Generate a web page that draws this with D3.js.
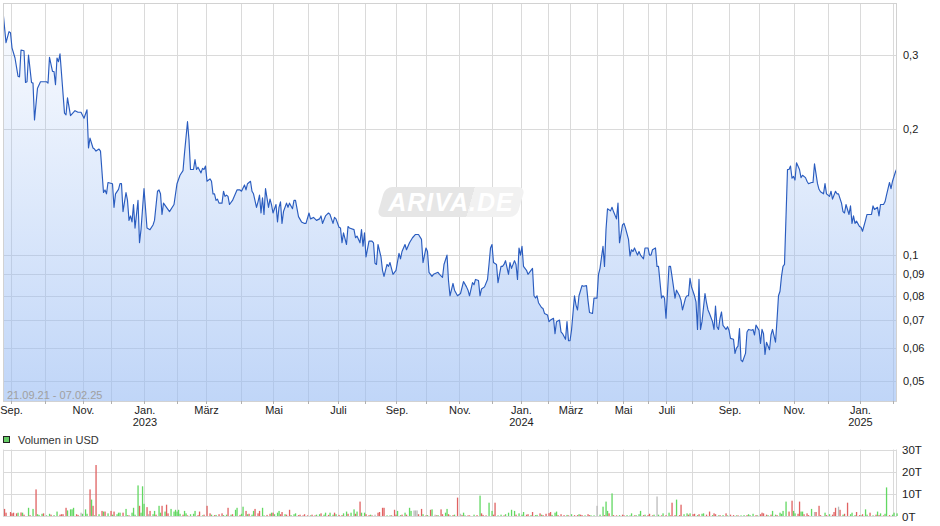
<!DOCTYPE html>
<html><head><meta charset="utf-8">
<script src="https://cdn.jsdelivr.net/npm/d3@7"></script>
<style>html,body{margin:0;padding:0;background:#fff;} svg{display:block;font-family:"Liberation Sans",Arial,sans-serif;}</style>
</head><body><svg id="c" width="940" height="526"></svg>
<script>
// ---- data (x = trading-session number) ----
const monthDays = [5,28,53,72,94,116,135,159,180,203,223,241,262,282,304,326,345,363,378,396,413,430,442,459,484,504,527,550,571,593];
const monthNames = ["Sep.","","Nov.","","Jan.","","März","","Mai","","Juli","","Sep.","","Nov.","","Jan.","","März","","Mai","","Juli","","Sep.","","Nov.","","Jan.",""];
const yearDays = [94,345,571];
const yearNames = ["2023","2024","2025"];
const priceTicks = [0.3,0.2,0.1,0.09,0.08,0.07,0.06,0.05];
const volumeTicks = [0,10,20,30];
const rangeLabel = "21.09.21 - 07.02.25";
const legendLabel = "Volumen in USD";

const priceSeries = [
[0,.381],[2,.321],[4,.341],[5,.339],[6,.312],[8,.295],[10,.267],[11,.266],[12,.308],[14,.307],[15,.258],[16,.259],[17,.300],[19,.258],[20,.257],[21,.210],[23,.250],[25,.259],[29,.259],[30,.257],
[31,.296],[33,.274],[34,.274],[35,.255],[36,.295],[37,.289],[38,.302],[41,.218],[42,.216],[43,.237],[45,.215],[48,.221],[50,.219],[52,.219],[54,.212],[56,.222],[57,.180],[58,.190],[60,.180],[61,.179],
[62,.177],[64,.179],[65,.177],[67,.141],[68,.143],[69,.140],[70,.149],[73,.148],[74,.130],[75,.140],[77,.1435],[78,.148],[79,.148],[80,.127],[82,.141],[83,.135],[84,.121],[85,.124],[86,.120],[87,.132],
[88,.116],[90,.135],[91,.107],[92,.115],[94,.144],[96,.116],[98,.115],[100,.118],[101,.121],[103,.142],[104,.143],[105,.140],[106,.125],[107,.133],[111,.127],[114,.132],[116,.148],[118,.155],[120,.159],[121,.175],
[123,.208],[124,.188],[125,.160],[127,.160],[128,.169],[129,.160],[130,.162],[132,.157],[133,.161],[134,.160],[135,.163],[136,.150],[138,.152],[139,.150],[140,.140],[141,.140],[142,.135],[143,.136],[144,.133],[146,.133],
[147,.142],[148,.138],[149,.139],[150,.138],[151,.132],[153,.135],[156,.143],[158,.143],[159,.142],[161,.147],[162,.143],[163,.148],[165,.150],[166,.142],[167,.140],[169,.130],[170,.134],[171,.139],[172,.126],[173,.137],
[174,.125],[175,.144],[177,.130],[178,.136],[179,.132],[180,.126],[182,.132],[183,.120],[184,.130],[185,.134],[186,.119],[187,.127],[189,.133],[190,.130],[191,.133],[193,.129],[194,.135],[195,.135],[197,.1235],[199,.120],
[201,.119],[202,.119],[204,.126],[205,.122],[207,.123],[209,.121],[211,.122],[212,.124],[213,.119],[215,.124],[216,.125],[217,.126],[218,.125],[220,.119],[221,.123],[222,.122],[224,.1165],[225,.116],[226,.107],[227,.113],
[229,.106],[230,.117],[231,.116],[234,.115],[235,.110],[236,.111],[238,.107],[239,.115],[240,.105],[241,.113],[242,.099],[244,.108],[246,.108],[247,.107],[248,.0956],[249,.095],[250,.106],[252,.099],[253,.092],[254,.089],
[256,.095],[257,.094],[258,.096],[260,.090],[261,.091],[262,.092],[264,.101],[265,.098],[266,.102],[268,.106],[269,.103],[271,.107],[273,.110],[275,.112],[277,.112],[279,.109],[280,.096],[282,.104],[283,.102],[284,.091],
[286,.089],[287,.090],[290,.091],[291,.090],[293,.0885],[294,.095],[296,.100],[297,.087],[298,.080],[300,.0856],[301,.0825],[303,.080],[305,.081],[307,.0865],[309,.084],[310,.0825],[311,.080],[313,.086],[314,.085],[315,.0875],
[317,.087],[318,.080],[319,.083],[321,.084],[323,.0875],[324,.095],[325,.104],[326,.106],[327,.096],[329,.095],[330,.086],[332,.094],[333,.094],[334,.095],[335,.097],[337,.090],[338,.096],[339,.093],[341,.097],[342,.095],
[343,.0875],[344,.104],[345,.100],[346,.105],[347,.094],[349,.092],[350,.090],[351,.091],[353,.093],[354,.080],[355,.079],[356,.080],[357,.077],[359,.075],[360,.0746],[361,.0726],[363,.072],[364,.0694],[365,.070],[367,.0707],
[368,.065],[369,.0694],[371,.070],[372,.0656],[373,.065],[375,.063],[376,.0694],[377,.0625],[378,.0625],[379,.0662],[381,.080],[382,.076],[383,.074],[384,.080],[386,.0846],[387,.0843],[389,.0846],[390,.078],[391,.073],[393,.0726],
[394,.079],[396,.079],[397,.090],[398,.093],[400,.105],[401,.094],[402,.115],[403,.129],[405,.1275],[406,.130],[407,.127],[409,.122],[410,.133],[411,.107],[413,.118],[414,.119],[415,.116],[417,.109],[418,.0995],[419,.103],
[420,.102],[421,.104],[423,.100],[424,.102],[425,.100],[427,.098],[428,.104],[430,.104],[431,.100],[432,.100],[433,.103],[435,.104],[436,.094],[437,.094],[439,.079],[440,.080],[441,.079],[442,.0707],[444,.094],[445,.094],
[446,.089],[447,.084],[448,.079],[449,.0825],[451,.080],[452,.078],[453,.074],[455,.079],[456,.080],[457,.080],[458,.088],[459,.084],[461,.080],[462,.0774],[463,.0665],[464,.0875],[465,.0665],[466,.0694],[468,.081],[469,.077],
[470,.074],[471,.0726],[473,.0694],[474,.0665],[475,.0756],[476,.0675],[477,.0665],[478,.0707],[479,.0732],[480,.068],[482,.0665],[483,.0675],[484,.0662],[485,.0633],[487,.063],[488,.0583],[489,.060],[490,.0607],[491,.0668],[492,.0562],
[493,.0557],[495,.0583],[496,.0656],[497,.0665],[499,.0662],[500,.0665],[501,.0645],[502,.0681],[504,.0662],[505,.0616],[506,.0665],[507,.065],[508,.058],[509,.062],[511,.0595],[512,.0645],[513,.0665],[515,.062],[516,.070],[517,.080],
[518,.082],[519,.089],[520,.094],[521,.095],[523,.160],[524,.160],[525,.163],[526,.1525],[527,.154],[528,.151],[529,.166],[531,.160],[532,.153],[533,.155],[535,.153],[536,.150],[537,.148],[539,.149],[540,.149],[541,.165],
[543,.148],[544,.1435],[545,.1416],[547,.140],[548,.148],[549,.140],[551,.138],[552,.142],[553,.136],[555,.142],[556,.140],[557,.140],[559,.133],[560,.127],[561,.126],[562,.132],[564,.125],[565,.131],[566,.119],[567,.124],
[568,.119],[569,.1205],[571,.117],[572,.1165],[573,.114],[575,.121],[576,.125],[577,.125],[579,.125],[580,.131],[581,.1285],[583,.130],[584,.124],[585,.132],[587,.132],[588,.134],[589,.139],[591,.149],[592,.144],[593,.150],
[595,.158],[596,.161]
];

// [session, volume in T, direction u=up d=down n=unchanged]
const volumeSeries = [
[1,3.2,"d"],[2,1.5,"d"],[5,1.8,"d"],[6,1.2,"d"],[7,1.5,"d"],[9,1.2,"d"],[10,1.5,"u"],[12,1.6,"d"],[13,1.5,"u"],[14,0.6,"d"],[17,3.7,"u"],[18,0.4,"d"],[20,3.2,"u"],[22,12,"d"],[23,0.8,"u"],[24,0.5,"u"],[26,1.0,"u"],[27,1.2,"d"],[29,0.3,"u"],[31,1.0,"u"],
[32,0.6,"d"],[34,0.4,"u"],[36,2.0,"u"],[38,0.6,"d"],[39,0.8,"d"],[40,0.8,"d"],[42,3.7,"d"],[43,2.5,"u"],[45,3.0,"u"],[46,3.0,"u"],[47,3.7,"u"],[49,0.8,"d"],[50,0.5,"d"],[52,1.5,"n"],[53,1.0,"u"],[55,3.0,"u"],[56,1.0,"u"],[58,12,"d"],[59,7.4,"u"],[60,4.6,"d"],
[61,0.3,"u"],[62,23,"d"],[64,0.8,"u"],[66,2.3,"d"],[67,2.0,"u"],[68,2.0,"d"],[70,1.2,"u"],[72,2.3,"d"],[73,0.6,"u"],[74,2.0,"d"],[76,0.8,"u"],[77,1.5,"u"],[78,1.5,"u"],[80,1.5,"d"],[82,3.2,"u"],[83,0.4,"u"],[84,0.3,"d"],[86,1.5,"u"],[87,3.7,"u"],[88,0.6,"u"],
[90,13.8,"u"],[91,4.6,"d"],[92,1.5,"u"],[93,13.4,"u"],[94,5.5,"u"],[96,4.0,"d"],[97,0.8,"n"],[98,2.3,"d"],[100,0.8,"u"],[101,2.3,"u"],[102,0.6,"d"],[104,4.6,"u"],[105,1.5,"u"],[106,4.6,"d"],[108,2.0,"u"],[109,5.1,"d"],[110,1.2,"d"],[112,3.2,"u"],[114,2.0,"u"],[115,2.8,"u"],
[116,2.0,"u"],[117,2.8,"u"],[118,1.0,"u"],[120,0.6,"d"],[121,2.3,"u"],[122,1.2,"u"],[123,0.3,"d"],[125,0.8,"u"],[127,1.0,"u"],[128,2.3,"u"],[130,0.4,"d"],[131,2.0,"d"],[133,0.3,"u"],[134,0.6,"d"],[136,4.6,"d"],[138,1.2,"d"],[139,0.6,"u"],[141,0.4,"d"],[142,0.5,"u"],[144,0.8,"d"],
[146,1.2,"d"],[147,0.4,"u"],[149,0.6,"u"],[150,3.7,"d"],[152,0.6,"u"],[153,0.8,"d"],[155,2.8,"u"],[156,3.7,"u"],[158,0.5,"d"],[159,1.0,"u"],[160,4.2,"u"],[162,2.3,"d"],[163,0.8,"u"],[164,1.0,"d"],[166,0.6,"u"],[167,2.3,"u"],[168,3.2,"d"],[170,1.2,"d"],[171,2.3,"d"],[173,3.7,"u"],
[174,0.3,"u"],[176,0.5,"d"],[178,1.0,"d"],[179,1.5,"u"],[180,1.5,"d"],[181,0.8,"u"],[183,1.5,"u"],[184,2.3,"u"],[185,0.8,"d"],[186,1.8,"d"],[188,0.8,"u"],[189,0.6,"d"],[191,2.8,"d"],[192,0.4,"u"],[194,0.8,"u"],[195,1.2,"u"],[197,0.4,"d"],[198,0.6,"d"],[200,0.3,"d"],[201,0.8,"d"],
[203,0.3,"d"],[205,0.3,"u"],[206,0.6,"d"],[208,0.3,"d"],[209,0.6,"u"],[211,0.8,"u"],[212,1.2,"d"],[214,0.6,"u"],[215,1.5,"u"],[217,0.5,"d"],[218,1.5,"u"],[220,0.6,"u"],[221,1.5,"d"],[222,0.8,"u"],[224,0.5,"d"],[226,0.4,"d"],[227,1.2,"u"],[229,2.0,"u"],[230,1.0,"d"],[232,1.5,"u"],
[234,3.0,"u"],[235,1.0,"d"],[236,2.0,"u"],[238,6.5,"d"],[239,1.5,"u"],[241,1.5,"u"],[242,0.8,"d"],[244,0.4,"d"],[245,0.6,"u"],[246,0.3,"d"],[248,0.6,"n"],[250,1.5,"d"],[251,1.8,"d"],[253,3.7,"d"],[254,3.7,"d"],[256,0.3,"u"],[258,0.3,"u"],[259,0.3,"d"],[261,2.8,"d"],[262,0.6,"d"],
[263,2.3,"u"],[265,0.4,"u"],[266,0.6,"d"],[268,1.5,"u"],[269,0.6,"d"],[271,3.7,"u"],[272,2.3,"u"],[274,2.5,"n"],[275,2.5,"n"],[276,2.5,"n"],[277,0.8,"d"],[279,3.2,"d"],[280,0.8,"u"],[282,0.3,"d"],[283,0.4,"u"],[285,2.8,"d"],[286,3.0,"u"],[288,0.6,"n"],[289,0.3,"d"],[290,0.4,"u"],
[292,3.0,"d"],[293,0.8,"d"],[295,1.5,"u"],[296,3.2,"u"],[297,0.8,"d"],[298,0.3,"u"],[300,0.4,"d"],[301,0.6,"u"],[303,8.3,"d"],[305,1.0,"n"],[306,0.4,"d"],[307,1.5,"u"],[308,0.3,"u"],[310,0.3,"d"],[311,0.3,"d"],[314,0.6,"u"],[316,0.4,"d"],[318,9.2,"u"],[319,1.2,"d"],[320,0.5,"d"],
[322,0.3,"d"],[324,6.0,"u"],[326,2.3,"u"],[327,0.6,"d"],[328,6.0,"d"],[330,0.3,"u"],[332,0.6,"u"],[334,0.3,"d"],[335,0.8,"u"],[337,1.5,"u"],[339,2.8,"u"],[341,2.3,"u"],[342,0.6,"d"],[344,1.2,"u"],[346,0.6,"u"],[347,1.8,"u"],[349,0.6,"d"],[350,0.8,"d"],[352,0.4,"u"],[353,1.8,"d"],
[355,0.4,"u"],[356,0.5,"u"],[358,1.2,"d"],[359,0.6,"u"],[360,0.4,"d"],[362,1.0,"d"],[364,1.3,"d"],[365,1.8,"d"],[366,0.5,"u"],[368,1.5,"u"],[369,2.0,"u"],[370,0.4,"d"],[372,0.8,"d"],[374,0.4,"d"],[376,0.5,"u"],[377,0.3,"d"],[379,0.8,"u"],[381,0.4,"d"],[383,0.4,"d"],[384,0.8,"u"],
[385,0.6,"d"],[386,0.4,"d"],[388,0.3,"u"],[390,0.8,"d"],[391,0.4,"d"],[392,0.3,"u"],[394,0.3,"u"],[396,4.6,"n"],[398,0.6,"u"],[400,4.2,"u"],[401,0.4,"d"],[402,6.5,"u"],[403,2.3,"u"],[404,1.2,"d"],[406,10.2,"u"],[407,0.4,"d"],[409,0.3,"d"],[411,0.4,"u"],[413,0.6,"d"],[414,0.3,"d"],
[416,0.4,"u"],[418,0.3,"u"],[419,1.2,"u"],[421,0.3,"d"],[422,0.4,"u"],[424,0.8,"u"],[425,2.3,"u"],[427,0.4,"d"],[428,0.6,"u"],[430,0.4,"d"],[431,1.0,"d"],[433,0.3,"d"],[434,0.6,"u"],[436,8.8,"n"],[437,0.6,"u"],[439,0.3,"d"],[440,1.2,"u"],[442,0.4,"d"],[444,1.5,"u"],[445,0.3,"d"],
[446,6.0,"d"],[448,0.4,"d"],[449,7.4,"u"],[451,0.4,"d"],[452,5.1,"d"],[454,0.8,"u"],[456,1.2,"u"],[457,0.6,"d"],[458,1.2,"u"],[460,0.8,"d"],[461,1.0,"d"],[463,0.4,"u"],[464,0.8,"d"],[466,1.0,"u"],[467,1.2,"u"],[469,0.6,"d"],[471,2.0,"d"],[473,0.4,"u"],[474,1.2,"d"],[475,0.8,"d"],
[477,0.3,"u"],[478,0.4,"d"],[480,0.4,"u"],[482,1.2,"d"],[483,0.3,"u"],[485,0.6,"d"],[487,0.4,"d"],[489,0.3,"u"],[490,0.3,"d"],[492,0.3,"u"],[494,0.4,"u"],[496,0.4,"d"],[497,0.8,"u"],[498,0.4,"u"],[500,1.0,"u"],[502,0.4,"d"],[503,0.3,"u"],[505,0.8,"d"],[506,1.5,"d"],[507,1.2,"d"],
[509,0.6,"d"],[510,0.4,"u"],[512,0.6,"d"],[513,2.3,"u"],[515,0.6,"u"],[516,0.4,"d"],[518,1.5,"u"],[519,1.0,"u"],[520,2.3,"u"],[522,6.5,"u"],[524,2.0,"d"],[526,6.9,"d"],[527,2.3,"u"],[528,1.2,"u"],[530,1.0,"d"],[531,6.5,"d"],[532,2.0,"u"],[533,2.0,"u"],[534,0.8,"d"],[536,1.2,"d"],
[537,0.4,"d"],[539,3.2,"u"],[541,1.8,"n"],[542,1.8,"d"],[544,4.6,"d"],[545,0.4,"d"],[548,1.5,"u"],[549,0.4,"d"],[551,0.8,"u"],[553,0.6,"d"],[554,1.8,"d"],[555,3.7,"d"],[557,4.2,"n"],[558,2.8,"d"],[560,0.6,"u"],[561,1.0,"d"],[563,6.0,"d"],[565,0.8,"u"],[566,1.5,"u"],[568,0.4,"u"],
[569,1.8,"d"],[571,0.4,"d"],[572,0.3,"u"],[573,0.8,"d"],[575,3.0,"u"],[576,0.6,"u"],[578,1.5,"d"],[580,0.3,"u"],[582,0.6,"d"],[583,2.0,"u"],[584,0.4,"d"],[585,1.2,"u"],[587,0.3,"d"],[588,1.0,"u"],[589,12.9,"u"],[591,0.4,"d"],[593,0.6,"u"],[594,1.5,"u"],[596,1.2,"u"]
];

// ---- layout ----
const L = 3, R = 897, T = 3, B = 401;
const VT = 449.5, VB = 516;
const svg = d3.select("#c");
const x = d3.scaleLinear().domain([0, 596]).range([L, R]);
const y = d3.scaleLog().domain([0.0449, 0.399]).range([B, T]);
const yv = d3.scaleLinear().domain([0, 30]).range([VB, VT]);
const px = v => Math.round(v) + 0.5;
const gridCol = "#dadada";
const fmt = d => String(d).replace(".", ",");

// gradient
const defs = svg.append("defs");
const grad = defs.append("linearGradient").attr("id", "fillg")
  .attr("gradientUnits", "userSpaceOnUse").attr("x1", 0).attr("y1", T).attr("x2", 0).attr("y2", B);
grad.append("stop").attr("offset", "0").attr("stop-color", "rgb(150,186,243)").attr("stop-opacity", 0.04);
grad.append("stop").attr("offset", "1").attr("stop-color", "rgb(150,186,243)").attr("stop-opacity", 0.6);
defs.append("clipPath").attr("id", "clipP").append("rect").attr("x", L).attr("y", T).attr("width", R - L).attr("height", B - T);

// ---- price panel grid ----
const g = svg.append("g");
g.selectAll("line.vg").data(monthDays).join("line")
  .attr("x1", d => px(x(d))).attr("x2", d => px(x(d))).attr("y1", T).attr("y2", B)
  .attr("stroke", gridCol);
g.selectAll("line.hg").data(priceTicks).join("line").attr("class", "hg")
  .attr("x1", L).attr("x2", R).attr("y1", d => px(y(d))).attr("y2", d => px(y(d)))
  .attr("stroke", gridCol);

// watermark
const wm = svg.append("g").attr("transform", "translate(451,202) skewX(-16)");
const wg = defs.append("linearGradient").attr("id", "wmg").attr("x1", 0).attr("x2", 1).attr("y1", 0).attr("y2", 0);
wg.append("stop").attr("offset", 0.64).attr("stop-color", "#e6e6e6");
wg.append("stop").attr("offset", 0.64).attr("stop-color", "#f1f1f1");
wm.append("rect").attr("x", -70).attr("y", -15).attr("width", 140).attr("height", 30).attr("rx", 7).attr("fill", "url(#wmg)");
svg.append("text").attr("x", 451).attr("y", 211).attr("text-anchor", "middle")
  .attr("font-size", 25).attr("font-weight", "bold").attr("font-style", "italic").attr("letter-spacing", 1)
  .attr("fill", "#ffffff").text("ARIVA.DE");

// area + line
const pg = svg.append("g").attr("clip-path", "url(#clipP)");
pg.append("path").datum(priceSeries)
  .attr("d", d3.area().x(d => x(d[0])).y0(B).y1(d => y(d[1])))
  .attr("fill", "url(#fillg)");
pg.append("path").datum(priceSeries)
  .attr("d", d3.line().x(d => x(d[0])).y(d => y(d[1])))
  .attr("fill", "none").attr("stroke", "#2a5cbf").attr("stroke-width", 1.15).attr("stroke-linejoin", "round");

// border
svg.append("rect").attr("x", L + 0.5).attr("y", T + 0.5).attr("width", R - L - 1).attr("height", B - T)
  .attr("fill", "none").attr("stroke", "#d2d2d2");

// x ticks & labels
svg.selectAll("line.xt").data(monthDays).join("line").attr("class", "xt")
  .attr("x1", d => px(x(d))).attr("x2", d => px(x(d))).attr("y1", B).attr("y2", B + 3)
  .attr("stroke", "#b0b0b0");
svg.selectAll("text.ml").data(monthDays.map((d, i) => [d, monthNames[i]]).filter(d => d[1]))
  .join("text").attr("class", "ml")
  .attr("x", d => x(d[0]) + 1).attr("y", 414).attr("text-anchor", "middle")
  .attr("font-size", 11).attr("fill", "#222").text(d => d[1]);
svg.selectAll("text.yl").data(yearDays).join("text").attr("class", "yl")
  .attr("x", d => x(d) + 1).attr("y", 426).attr("text-anchor", "middle")
  .attr("font-size", 11).attr("fill", "#222").text((d, i) => yearNames[i]);

// y labels
svg.selectAll("text.pl").data(priceTicks).join("text").attr("class", "pl")
  .attr("x", 903).attr("y", d => y(d) + 4).attr("font-size", 11).attr("fill", "#222").text(fmt);

// range label
svg.append("text").attr("x", 7).attr("y", 399).attr("font-size", 11).attr("fill", "#a0a0a0").text(rangeLabel);

// ---- volume panel ----
svg.append("rect").attr("x", 3.5).attr("y", 436.5).attr("width", 6).attr("height", 6)
  .attr("fill", "#66cc66").attr("stroke", "#222");
svg.append("text").attr("x", 18).attr("y", 444).attr("font-size", 11).attr("fill", "#333").text(legendLabel);

const vg = svg.append("g");
vg.selectAll("line").data(monthDays).join("line")
  .attr("x1", d => px(x(d))).attr("x2", d => px(x(d))).attr("y1", VT).attr("y2", VB)
  .attr("stroke", gridCol);
vg.selectAll("line.vh").data(volumeTicks).join("line").attr("class", "vh")
  .attr("x1", L).attr("x2", R).attr("y1", d => px(yv(d))).attr("y2", d => px(yv(d)))
  .attr("stroke", gridCol);
[L, R].forEach(xx => vg.append("line").attr("x1", px(xx) - 1 * (xx === R)).attr("x2", px(xx) - 1 * (xx === R))
  .attr("y1", VT).attr("y2", VB).attr("stroke", gridCol));

const dirCol = { u: "#62d862", d: "#e06262", n: "#bbbbbb" };
vg.selectAll("rect.vb").data(volumeSeries).join("rect").attr("class", "vb")
  .attr("x", d => x(d[0]) - 0.6).attr("width", 1.3)
  .attr("y", d => yv(d[1])).attr("height", d => VB - yv(d[1]))
  .attr("fill", d => dirCol[d[2]]);

svg.selectAll("text.vl").data(volumeTicks).join("text").attr("class", "vl")
  .attr("x", 902).attr("y", d => yv(d) + 4.5).attr("font-size", 11.5).attr("fill", "#222").text(d => d + "T");
</script></body></html>
